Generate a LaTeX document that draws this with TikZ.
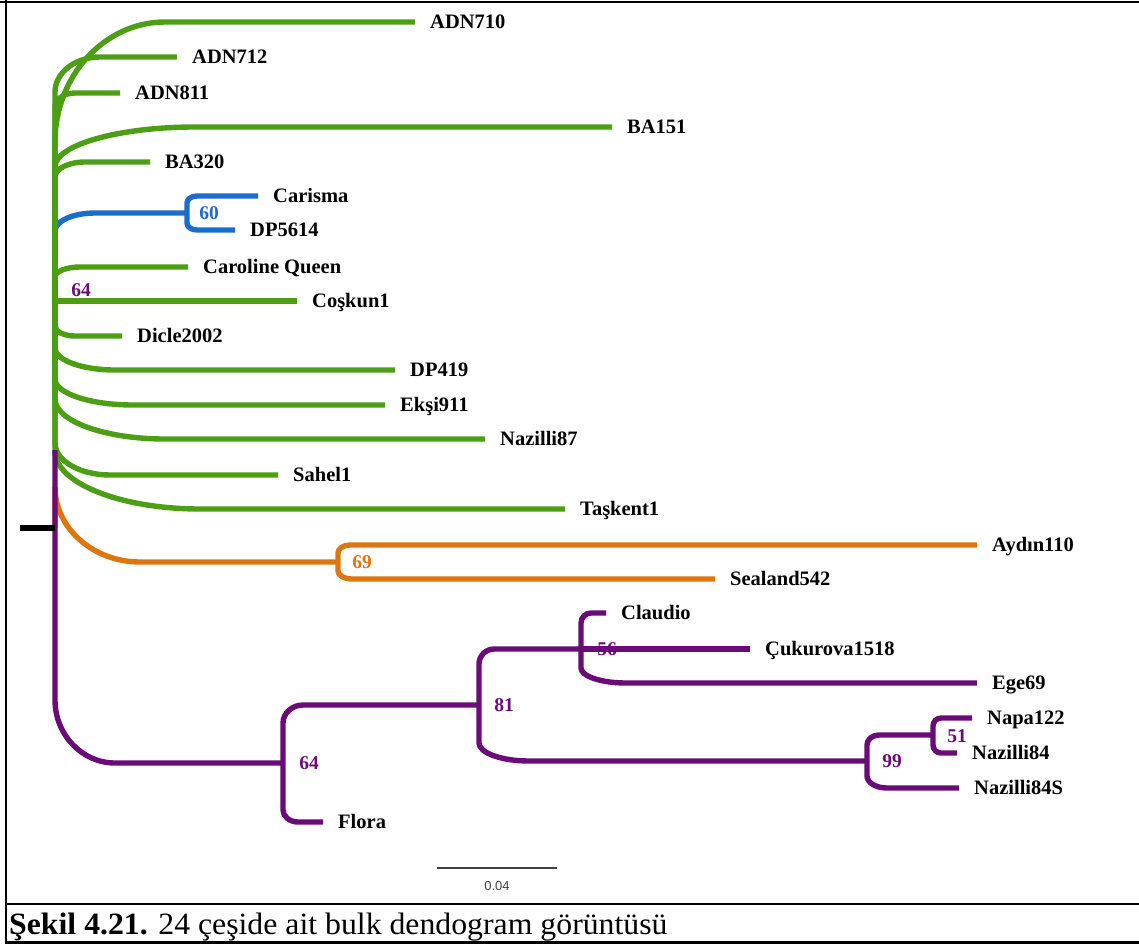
\documentclass[tikz,border=0pt]{standalone}
\usepackage{fontspec}
\setmainfont{Liberation Serif}
\setsansfont{Liberation Sans}
\usetikzlibrary{calc}

\definecolor{cladegreen}{RGB}{76,158,20}
\definecolor{cladeblue}{RGB}{28,108,204}
\definecolor{cladeorange}{RGB}{222,118,16}
\definecolor{cladepurple}{RGB}{106,12,120}

% branch: vertical from parent, curved elbow, horizontal to child
\newcommand{\bough}[5][]{%
  \draw[#1] (#2) -- ($(#2|-#3)+(0,#4)$)
    .. controls ($(#2|-#3)+(0,{0.45*(#4)})$) and ($(#2|-#3)+({0.45*(#5)},0)$)
    .. ($(#2|-#3)+(#5,0)$) -- (#3);}

\begin{document}
\begin{tikzpicture}[x=1pt,y=-1pt,
    branch/.style={line width=5.4pt},
    leaf/.style={anchor=base west,inner sep=0pt,xshift=15pt,yshift=-6.8pt,
      font=\bfseries\fontsize{20.5}{20.5}\selectfont},
    support/.style={inner sep=0pt,font=\bfseries\fontsize{19.5}{19.5}\selectfont}]
  \useasboundingbox (0,0) rectangle (1139,945);

  % frame and caption
  \draw[line width=2pt] (0,1.5) -- (1139,1.5);
  \draw[line width=2pt] (6,0) -- (6,944);
  \draw[line width=2pt] (6,904) -- (1139,904);
  \draw[line width=3pt] (6,942.5) -- (1139,942.5);
  \node[anchor=base west,inner sep=0pt,font=\fontsize{31}{31}\selectfont,xscale=1.025] (caption) at (9,934)
    {\textbf{Şekil 4.21.} 24 çeşide ait bulk dendogram görüntüsü};

  % inner nodes
  \coordinate (stub)  at (20,528);
  \coordinate (root)  at (55,528);
  \coordinate (gnode) at (55,301);
  \coordinate (split) at (55,450);
  \coordinate (bnode) at (187,213);
  \coordinate (onode) at (338,562);
  \coordinate (p1)    at (283,763);
  \coordinate (p2)    at (479,705);
  \coordinate (p3)    at (581,649);
  \coordinate (p4)    at (867,761);
  \coordinate (p5)    at (933,735);

  % tips
  \coordinate (adn710)   at (415,22);
  \coordinate (adn712)   at (177,57);
  \coordinate (adn811)   at (120,93);
  \coordinate (ba151)    at (612,127);
  \coordinate (ba320)    at (150,162);
  \coordinate (carisma)  at (258,196);
  \coordinate (dp5614)   at (235,230);
  \coordinate (caroline) at (188,267);
  \coordinate (coskun)   at (297,301);
  \coordinate (dicle)    at (122,336);
  \coordinate (dp419)    at (395,370);
  \coordinate (eksi)     at (385,405);
  \coordinate (naz87)    at (485,439);
  \coordinate (sahel)    at (278,475);
  \coordinate (taskent)  at (565,509);
  \coordinate (aydin)    at (977,545);
  \coordinate (sealand)  at (715,579);
  \coordinate (claudio)  at (606,613);
  \coordinate (cukurova) at (750,649);
  \coordinate (ege)      at (977,683);
  \coordinate (napa)     at (972,718);
  \coordinate (naz84)    at (957,753);
  \coordinate (naz84s)   at (959,788);
  \coordinate (flora)    at (323,822);

  % orange clade
  \bough[branch,cladeorange]{root}{onode}{-75}{85}
  \bough[branch,cladeorange]{onode}{aydin}{8}{12}
  \bough[branch,cladeorange]{onode}{sealand}{-8}{14}

  % blue clade
  \bough[branch,cladeblue]{gnode}{bnode}{18}{40}
  \bough[branch,cladeblue]{bnode}{carisma}{7}{10}
  \bough[branch,cladeblue]{bnode}{dp5614}{-7}{10}

  % green clade
  \bough[branch,cladegreen]{gnode}{adn710}{120}{110}
  \bough[branch,cladegreen]{gnode}{adn712}{35}{45}
  \bough[branch,cladegreen]{gnode}{adn811}{14}{20}
  \bough[branch,cladegreen]{gnode}{ba151}{40}{140}
  \bough[branch,cladegreen]{gnode}{ba320}{15}{30}
  \bough[branch,cladegreen]{gnode}{caroline}{10}{25}
  \draw[branch,cladegreen] (gnode) -- (coskun);
  \bough[branch,cladegreen]{gnode}{dicle}{-10}{20}
  \bough[branch,cladegreen]{gnode}{dp419}{-22}{60}
  \bough[branch,cladegreen]{gnode}{eksi}{-26}{78}
  \bough[branch,cladegreen]{gnode}{naz87}{-40}{110}
  \bough[branch,cladegreen]{gnode}{sahel}{-32}{55}
  \bough[branch,cladegreen]{gnode}{taskent}{-58}{145}

  % purple clade
  \bough[branch,cladepurple]{split}{p1}{-63}{60}
  \bough[branch,cladepurple]{p1}{p2}{18}{20}
  \bough[branch,cladepurple]{p1}{flora}{-12}{15}
  \bough[branch,cladepurple]{p2}{p3}{15}{15}
  \bough[branch,cladepurple]{p2}{p4}{-18}{50}
  \bough[branch,cladepurple]{p3}{claudio}{10}{10}
  \draw[branch,cladepurple] (p3) -- (cukurova);
  \bough[branch,cladepurple]{p3}{ege}{-15}{45}
  \bough[branch,cladepurple]{p4}{p5}{10}{12}
  \bough[branch,cladepurple]{p4}{naz84s}{-12}{20}
  \bough[branch,cladepurple]{p5}{napa}{8}{8}
  \bough[branch,cladepurple]{p5}{naz84}{-8}{8}

  % root
  \draw[branch,black] (stub) -- (root);

  % tip labels
  \node[leaf] (l-adn710)   at (adn710)   {ADN710};
  \node[leaf] (l-adn712)   at (adn712)   {ADN712};
  \node[leaf] (l-adn811)   at (adn811)   {ADN811};
  \node[leaf] (l-ba151)    at (ba151)    {BA151};
  \node[leaf] (l-ba320)    at (ba320)    {BA320};
  \node[leaf] (l-carisma)  at (carisma)  {Carisma};
  \node[leaf] (l-dp5614)   at (dp5614)   {DP5614};
  \node[leaf] (l-caroline) at (caroline) {Caroline Queen};
  \node[leaf] (l-coskun)   at (coskun)   {Coşkun1};
  \node[leaf] (l-dicle)    at (dicle)    {Dicle2002};
  \node[leaf] (l-dp419)    at (dp419)    {DP419};
  \node[leaf] (l-eksi)     at (eksi)     {Ekşi911};
  \node[leaf] (l-naz87)    at (naz87)    {Nazilli87};
  \node[leaf] (l-sahel)    at (sahel)    {Sahel1};
  \node[leaf] (l-taskent)  at (taskent)  {Taşkent1};
  \node[leaf] (l-aydin)    at (aydin)    {Aydın110};
  \node[leaf] (l-sealand)  at (sealand)  {Sealand542};
  \node[leaf] (l-claudio)  at (claudio)  {Claudio};
  \node[leaf] (l-cukurova) at (cukurova) {Çukurova1518};
  \node[leaf] (l-ege)      at (ege)      {Ege69};
  \node[leaf] (l-napa)     at (napa)     {Napa122};
  \node[leaf] (l-naz84)    at (naz84)    {Nazilli84};
  \node[leaf] (l-naz84s)   at (naz84s)   {Nazilli84S};
  \node[leaf] (l-flora)    at (flora)    {Flora};

  % support values
  \node[support,cladepurple] (s-g)  at (81,290)  {64};
  \node[support,cladeblue]   (s-b)  at (209,213) {60};
  \node[support,cladeorange] (s-o)  at (362,562) {69};
  \node[support,cladepurple] (s-p1) at (309,763) {64};
  \node[support,cladepurple] (s-p2) at (504,705) {81};
  \node[support,cladepurple] (s-p3) at (607,649) {56};
  \node[support,cladepurple] (s-p4) at (892,761) {99};
  \node[support,cladepurple] (s-p5) at (957,736) {51};

  % scale bar
  \coordinate (sb1) at (437,868);
  \coordinate (sb2) at (557,868);
  \draw[line width=1.5pt,black!75] (sb1) -- (sb2);
  \node[font=\sffamily\fontsize{13}{13}\selectfont,text=black!75] (sblabel) at (497,886) {0.04};
\end{tikzpicture}
\end{document}
